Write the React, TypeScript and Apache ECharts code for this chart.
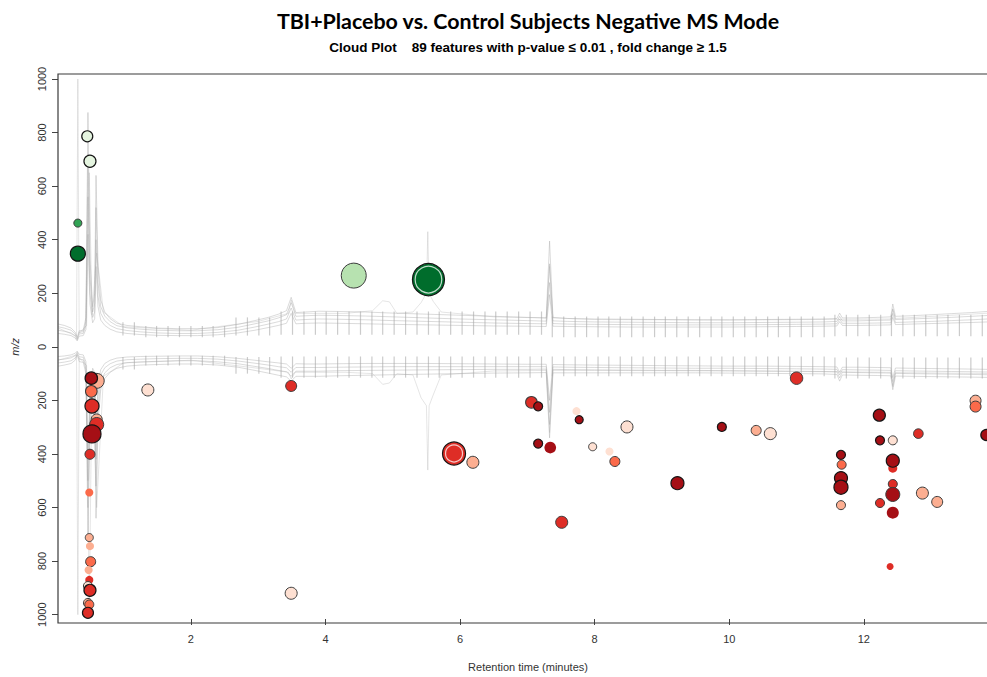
import { useEffect, useRef } from "react";
import * as echarts from "echarts";

const TITLE = "TBI+Placebo vs. Control Subjects Negative MS Mode";
const SUBTITLE = "Cloud Plot    89 features with p-value \u2264 0.01 , fold change \u2265 1.5";
const X_LABEL = "Retention time (minutes)";
const Y_LABEL = "m/z";

const xTickValues = [2, 4, 6, 8, 10, 12];

// Features higher in TBI+Placebo: [retention time (min), m/z, fold change, log10 intensity, p-value]
const upFeatures: number[][] = [
  [0.46, 786, 1.7, 4.5, 0.0008],
  [0.5, 693, 1.7, 4.63, 0.0008],
  [0.32, 462, 3.2, 4.13, 0.003],
  [0.32, 348, 8.4, 5.0, 0.0004],
  [4.42, 266, 2.3, 6.25, 0.002],
  [5.53, 251, 9.1, 7.13, 0.0001],
];
// Co-eluting features plotted on top of a larger one: [rt, m/z, fold change, log10 intensity]
const upRinged: number[][] = [[5.53, 251, 9.1, 6.45]];

// Features lower in TBI+Placebo: [retention time (min), m/z, fold change, log10 intensity, p-value]
const downFeatures: number[][] = [
  [0.6, 127, 2.3, 5.0, 0.002],
  [0.52, 117, 8.6, 4.68, 0.0004],
  [0.52, 166, 3.3, 4.58, 0.002],
  [0.53, 221, 5.1, 4.88, 0.0005],
  [0.6, 271, 2.4, 4.5, 0.002],
  [0.6, 290, 4.9, 4.88, 0.002],
  [0.53, 325, 8.8, 5.38, 0.0003],
  [0.5, 401, 4.7, 4.38, 0.002],
  [0.49, 544, 3.4, 4.13, 0.008],
  [0.49, 712, 2.4, 4.13, 0.003],
  [0.5, 744, 2.1, 4.13, 0.008],
  [0.51, 802, 3.5, 4.38, 0.002],
  [0.48, 833, 2.2, 4.13, 0.008],
  [0.49, 870, 5.0, 4.13, 0.008],
  [0.47, 893, 1.7, 4.25, 0.003],
  [0.5, 909, 5.2, 4.63, 0.0008],
  [0.47, 956, 2.4, 4.25, 0.002],
  [0.49, 962, 3.3, 4.25, 0.002],
  [0.47, 993, 5.3, 4.5, 0.0004],
  [1.36, 161, 1.7, 4.63, 0.002],
  [3.49, 146, 5.0, 4.5, 0.002],
  [3.49, 920, 1.7, 4.63, 0.002],
  [5.91, 398, 5.4, 6.0, 0.0004],
  [6.19, 431, 2.4, 4.63, 0.002],
  [7.06, 207, 4.8, 4.58, 0.002],
  [7.16, 222, 8.2, 4.25, 0.0008],
  [7.73, 240, 1.7, 4.13, 0.008],
  [7.77, 272, 8.3, 4.13, 0.0008],
  [8.48, 299, 1.6, 4.63, 0.002],
  [9.89, 299, 8.0, 4.25, 0.0008],
  [10.4, 312, 2.5, 4.38, 0.002],
  [10.61, 324, 1.7, 4.63, 0.002],
  [7.16, 361, 8.1, 4.25, 0.0008],
  [7.34, 376, 7.9, 4.58, 0.008],
  [7.97, 373, 1.6, 4.13, 0.002],
  [8.22, 391, 1.7, 4.13, 0.008],
  [8.3, 428, 3.4, 4.38, 0.002],
  [9.23, 509, 8.5, 4.75, 0.0004],
  [7.51, 655, 5.0, 4.63, 0.002],
  [11.0, 117, 4.9, 4.68, 0.002],
  [12.23, 255, 8.4, 4.63, 0.0008],
  [12.24, 349, 8.0, 4.25, 0.0008],
  [12.43, 349, 1.6, 4.25, 0.002],
  [12.81, 324, 5.1, 4.33, 0.002],
  [13.66, 201, 2.4, 4.5, 0.002],
  [13.66, 223, 3.4, 4.5, 0.002],
  [13.82, 329, 8.2, 4.5, 0.0008],
  [11.66, 403, 8.1, 4.25, 0.0008],
  [11.67, 440, 3.3, 4.25, 0.002],
  [11.66, 490, 8.7, 4.75, 0.0008],
  [11.66, 524, 9.0, 4.88, 0.0003],
  [11.66, 591, 2.4, 4.25, 0.002],
  [12.43, 453, 5.0, 4.25, 0.008],
  [12.43, 425, 8.9, 4.75, 0.0003],
  [12.43, 512, 5.2, 4.25, 0.002],
  [12.43, 551, 8.8, 4.88, 0.004],
  [12.24, 583, 5.0, 4.25, 0.002],
  [12.43, 619, 8.6, 4.63, 0.008],
  [12.87, 546, 2.4, 4.63, 0.002],
  [13.09, 579, 2.3, 4.5, 0.002],
  [12.39, 820, 5.0, 4.0, 0.008],
];
const downRinged: number[][] = [[5.91, 398, 5.4, 5.25]];

// Total ion chromatograms of the samples, mirrored: positive half = TBI+Placebo, negative half = controls
const traceTimes = [
  0.03, 0.12, 0.22, 0.28, 0.31, 0.34, 0.4, 0.44, 0.47, 0.5, 0.54, 0.57, 0.59, 0.62, 0.66, 0.72,
  0.8, 0.9, 1.05, 1.25, 1.5, 1.8, 2.1, 2.4, 2.7, 2.95, 3.15, 3.3, 3.42, 3.49, 3.56, 3.7, 3.9,
  4.2, 4.6, 5.0, 5.5, 6.0, 6.5, 7.0, 7.28, 7.33, 7.38, 7.6, 8.0, 8.5, 9.0, 9.5, 10.0, 10.5,
  11.0, 11.4, 11.6, 11.64, 11.68, 11.9, 12.2, 12.4, 12.43, 12.47, 12.7, 13.0, 13.3, 13.6, 13.83, 14.0,
];
const ticUp1 = [
  85, 80, 70, 55, 35, 60, 62, 110, 875, 330, 150, 200, 640, 300, 175, 130,
  105, 88, 80, 75, 70, 68, 68, 72, 84, 98, 110, 122, 135, 185, 128, 130, 133,
  132, 130, 126, 122, 118, 114, 110, 108, 395, 110, 106, 104, 103, 102, 101, 101, 102,
  103, 104, 106, 126, 108, 108, 110, 112, 160, 114, 116, 120, 124, 128, 132, 134,
];
const ticUp2 = [
  75, 70, 62, 48, 30, 55, 56, 95, 720, 260, 130, 160, 520, 240, 150, 115,
  94, 79, 71, 66, 62, 60, 60, 64, 73, 86, 97, 108, 120, 165, 114, 116, 118,
  117, 115, 112, 108, 104, 101, 98, 96, 310, 97, 95, 93, 92, 91, 90, 90, 91,
  92, 93, 95, 114, 97, 97, 99, 100, 142, 102, 104, 107, 110, 114, 117, 119,
];
const ticUp3 = [
  62, 58, 52, 40, 26, 48, 50, 80, 560, 200, 110, 130, 400, 190, 125, 98,
  80, 68, 61, 56, 52, 50, 50, 54, 62, 74, 85, 94, 104, 145, 100, 102, 104,
  103, 101, 98, 95, 92, 89, 87, 86, 240, 87, 85, 84, 83, 82, 82, 82, 83,
  84, 85, 86, 104, 88, 88, 89, 90, 125, 91, 93, 95, 98, 101, 104, 106,
];
const ticUp4 = [
  50, 47, 42, 33, 22, 40, 42, 65, 420, 160, 90, 105, 300, 150, 100, 80,
  66, 56, 50, 46, 43, 42, 42, 45, 52, 62, 72, 80, 88, 125, 86, 88, 89,
  88, 86, 84, 82, 80, 78, 77, 76, 195, 77, 76, 75, 74, 74, 74, 74, 75,
  76, 77, 78, 94, 80, 80, 81, 82, 110, 83, 85, 87, 89, 91, 93, 95,
];
const ticDown1 = [
  -72, -68, -62, -50, -30, -55, -58, -100, -720, -300, -140, -180, -640, -280, -160, -118,
  -95, -80, -72, -68, -66, -64, -64, -68, -76, -88, -98, -106, -112, -128, -110, -110, -110,
  -108, -106, -104, -102, -100, -98, -97, -96, -340, -97, -97, -97, -97, -97, -97, -98, -99,
  -100, -101, -103, -128, -105, -106, -107, -108, -160, -109, -110, -111, -112, -113, -114, -115,
];
const ticDown2 = [
  -60, -57, -52, -42, -25, -46, -48, -85, -600, -250, -120, -150, -520, -230, -130, -97,
  -78, -66, -59, -56, -54, -52, -52, -56, -63, -73, -81, -88, -93, -110, -91, -91, -91,
  -89, -88, -87, -86, -85, -84, -84, -83, -290, -84, -85, -86, -87, -88, -88, -89, -90,
  -91, -92, -93, -116, -95, -96, -97, -98, -145, -99, -100, -101, -102, -103, -104, -105,
];
const ticDown3 = [
  -48, -46, -41, -33, -20, -37, -39, -70, -500, -200, -100, -120, -420, -185, -105, -78,
  -63, -53, -48, -46, -44, -43, -43, -46, -53, -61, -68, -74, -78, -95, -77, -77, -77,
  -76, -75, -74, -74, -74, -74, -74, -74, -245, -75, -76, -77, -78, -79, -80, -80, -81,
  -82, -83, -84, -105, -85, -86, -87, -88, -130, -89, -90, -91, -92, -93, -94, -95,
];
const ticDown4 = [
  -36, -34, -30, -24, -16, -28, -30, -55, -420, -160, -80, -95, -330, -140, -85, -62,
  -50, -42, -38, -36, -35, -34, -34, -37, -43, -50, -56, -60, -64, -80, -63, -64, -64,
  -63, -62, -62, -62, -63, -64, -65, -65, -200, -66, -67, -68, -69, -70, -71, -72, -72,
  -73, -74, -75, -95, -76, -76, -77, -78, -115, -79, -80, -81, -82, -83, -84, -85,
];
// One sample with extra early and mid-run peaks
const ticFaintUp: number[][] = [
  [0.03, 70], [0.3, 40], [0.32, 1000], [0.34, 50], [0.45, 80], [0.49, 650], [0.53, 120], [0.6, 350],
  [0.7, 130], [1.0, 75], [2.0, 62], [3.0, 95], [3.45, 125], [3.49, 175], [3.55, 125], [4.3, 125], [4.7, 135],
  [4.85, 172], [4.95, 168], [5.06, 125], [5.3, 130], [5.42, 165], [5.5, 200], [5.52, 430], [5.54, 200],
  [5.6, 170], [5.72, 130], [6.5, 112], [7.28, 108], [7.33, 300], [7.38, 108], [8.0, 102], [10.0, 100],
  [12.4, 104], [12.43, 140], [12.47, 106], [14.0, 128],
];
const ticFaintDown: number[][] = [
  [0.03, -50], [0.3, -30], [0.32, -1000], [0.34, -40], [0.45, -70], [0.49, -990], [0.53, -110], [0.6, -600],
  [0.7, -110], [1.0, -60], [2.0, -50], [3.0, -80], [3.45, -95], [3.49, -120], [3.55, -95], [4.3, -95], [4.7, -100],
  [4.85, -140], [4.95, -135], [5.06, -100], [5.3, -105], [5.42, -190], [5.5, -220], [5.52, -460], [5.54, -220],
  [5.6, -180], [5.72, -105], [6.5, -90], [7.28, -88], [7.33, -320], [7.38, -88], [8.0, -88], [10.0, -90],
  [12.4, -95], [12.43, -150], [12.47, -96], [14.0, -100],
];

// Periodic scan artefacts visible on every chromatogram
const spikeTimes = [
  0.99, 1.16, 1.33, 1.49, 1.66, 1.83, 2.0, 2.17, 2.33, 2.5, 2.67, 2.84, 3.01, 3.17, 3.34, 3.51,
  3.68, 3.85, 4.01, 4.18, 4.35, 4.52, 4.69, 4.85, 5.02, 5.19, 5.36, 5.53, 5.69, 5.86, 6.03, 6.2,
  6.37, 6.53, 6.7, 6.87, 7.04, 7.21, 7.37, 7.54, 7.71, 7.88, 8.05, 8.21, 8.38, 8.55, 8.72, 8.89,
  9.05, 9.22, 9.39, 9.56, 9.73, 9.89, 10.06, 10.23, 10.4, 10.57, 10.73, 10.9, 11.07, 11.24, 11.41,
  11.57, 11.74, 11.91, 12.08, 12.25, 12.41, 12.58, 12.75, 12.92, 13.09, 13.25, 13.42, 13.59, 13.76,
];
// [from rt, to rt, low m/z, high m/z] extent of the artefacts
const spikeRangesUp: number[][] = [
  [0.9, 1.3, 42, 92], [1.3, 2.6, 36, 78], [2.6, 3.25, 42, 110],
  [3.25, 7.3, 45, 132], [7.3, 11.5, 36, 113], [11.5, 14, 40, 120],
];
const spikeRangesDown: number[][] = [
  [0.9, 1.3, -38, -85], [1.3, 2.6, -33, -70], [2.6, 3.25, -38, -100],
  [3.25, 7.3, -36, -115], [7.3, 11.5, -36, -110], [11.5, 14, -40, -118],
];

const RED_SCALE = ["#fee0d2", "#fcae91", "#fb6a4a", "#de2d26", "#a50f15"];
const GREEN_SCALE = ["#e5f5e0", "#b7e2b0", "#31a354", "#1b7f3b", "#006d2c"];
const FC_BREAKS = [2, 2.8, 4, 6.5];

function fcIndex(fc: number) {
  let i = 0;
  while (i < FC_BREAKS.length && fc >= FC_BREAKS[i]) i++;
  return i;
}
function markerDiameter(logI: number) {
  return 2 * (4 + (logI - 4) * 4) - 1;
}
function outlineFor(p: number) {
  if (p < 0.001) return { borderColor: "#151515", borderWidth: 1.2 };
  if (p < 0.005) return { borderColor: "#3c3c3c", borderWidth: 1 };
  return { borderColor: "rgba(0,0,0,0)", borderWidth: 0 };
}

function featurePoints(rows: number[][], sign: number, scale: string[]) {
  return rows.map((r) => ({
    value: [r[0], sign * r[1]],
    symbolSize: markerDiameter(r[3]),
    itemStyle: { color: scale[fcIndex(r[2])], opacity: 1, ...outlineFor(r[4]) },
  }));
}
function ringedPoints(rows: number[][], sign: number, scale: string[]) {
  return rows.map((r) => ({
    value: [r[0], sign * r[1]],
    symbolSize: markerDiameter(r[3]),
    itemStyle: {
      color: scale[fcIndex(r[2])],
      opacity: 1,
      borderColor: "rgba(255,255,255,0.75)",
      borderWidth: 1.2,
    },
  }));
}
function spikeData(ranges: number[][]) {
  const out: number[][] = [];
  for (const t of spikeTimes) {
    const band = ranges.find((b) => t >= b[0] && t < b[1]);
    if (band) out.push([t, band[2], band[3]]);
  }
  return out;
}

const traceColor = "rgba(170,170,170,0.42)";

function traceSeries(values: number[]) {
  return {
    type: "line",
    data: traceTimes.map((t, i) => [t, values[i]]),
    showSymbol: false,
    symbol: "none",
    silent: true,
    z: 1,
    lineStyle: { color: traceColor, width: 1 },
  };
}

function faintSeries(points: number[][]) {
  return {
    type: "line",
    data: points,
    showSymbol: false,
    symbol: "none",
    silent: true,
    z: 1,
    lineStyle: { color: "rgba(170,170,170,0.3)", width: 1 },
  };
}

const labelFont = "Liberation Sans, Arial, Helvetica, sans-serif";

export default function App() {
  const ref = useRef<HTMLDivElement>(null);
  useEffect(() => {
    if (!ref.current) return;
    const chart = echarts.init(ref.current, undefined, { renderer: "svg" });
    const spikeSeries = (ranges: number[][]) => ({
      type: "custom",
      silent: true,
      z: 1,
      data: spikeData(ranges),
      encode: { x: 0, y: [1, 2] },
      renderItem: (_p: any, api: any) => {
        const a = api.coord([api.value(0), api.value(1)]);
        const b = api.coord([api.value(0), api.value(2)]);
        return {
          type: "line",
          shape: { x1: a[0], y1: a[1], x2: b[0], y2: b[1] },
          style: { stroke: "rgba(160,160,160,0.55)", lineWidth: 1.2 },
        };
      },
    });
    chart.setOption({
      animation: false,
      backgroundColor: "#ffffff",
      grid: { left: 58, right: 0, top: 79, bottom: 58.3, containLabel: false },
      xAxis: {
        type: "value",
        min: 0.025,
        max: 13.83,
        offset: 4.3,
        name: X_LABEL,
        nameLocation: "middle",
        nameGap: 42,
        nameTextStyle: { fontFamily: labelFont, fontSize: 11, color: "#333", padding: [0, 0, 0, 11] },
        axisLine: { show: false, onZero: false },
        axisTick: { show: true, length: 6, lineStyle: { color: "#444" }, customValues: xTickValues },
        axisLabel: {
          fontFamily: labelFont,
          fontSize: 11,
          color: "#333",
          margin: 14,
          customValues: xTickValues,
        },
        splitLine: { show: false },
      },
      yAxis: {
        type: "value",
        min: -1000,
        max: 1000,
        interval: 200,
        name: Y_LABEL,
        nameLocation: "middle",
        nameRotate: 90,
        nameGap: 38,
        nameTextStyle: { fontFamily: labelFont, fontSize: 11, color: "#333", fontStyle: "italic" },
        axisLine: { show: false, onZero: false },
        axisTick: { show: true, length: 6, lineStyle: { color: "#444" } },
        axisLabel: {
          fontFamily: labelFont,
          fontSize: 11,
          color: "#333",
          rotate: 90,
          margin: 11,
          formatter: (v: number) => String(Math.abs(v)),
        },
        splitLine: { show: false },
      },
      graphic: [
        {
          type: "polyline",
          silent: true,
          z: 10,
          shape: { points: [[998, 74], [58, 74], [58, 623], [998, 623]] },
          style: { stroke: "#3a3a3a", lineWidth: 1.2, fill: "none" },
        },
        {
          type: "text",
          x: 528,
          y: 21,
          style: {
            text: TITLE,
            font: "bold 21.4px Lato, 'Open Sans', sans-serif",
            fill: "#000",
            align: "center",
            verticalAlign: "middle",
          },
        },
        {
          type: "text",
          x: 528,
          y: 47,
          style: {
            text: SUBTITLE,
            font: "bold 13.5px 'Liberation Sans', Arial, sans-serif",
            fill: "#000",
            align: "center",
            verticalAlign: "middle",
          },
        },
      ],
      series: [
        traceSeries(ticUp1),
        traceSeries(ticUp2),
        traceSeries(ticUp3),
        traceSeries(ticUp4),
        traceSeries(ticDown1),
        traceSeries(ticDown2),
        traceSeries(ticDown3),
        traceSeries(ticDown4),
        faintSeries(ticFaintUp),
        faintSeries(ticFaintDown),
        spikeSeries(spikeRangesUp),
        spikeSeries(spikeRangesDown),
        { type: "scatter", z: 3, data: featurePoints(upFeatures, 1, GREEN_SCALE) },
        { type: "scatter", z: 3, data: ringedPoints(upRinged, 1, GREEN_SCALE) },
        { type: "scatter", z: 3, data: featurePoints(downFeatures, -1, RED_SCALE) },
        { type: "scatter", z: 3, data: ringedPoints(downRinged, -1, RED_SCALE) },
      ],
    });
    return () => chart.dispose();
  }, []);
  return (
    <div
      ref={ref}
      style={{ position: "fixed", left: 0, top: 0, width: 987, height: 677, background: "#fff" }}
    />
  );
}
